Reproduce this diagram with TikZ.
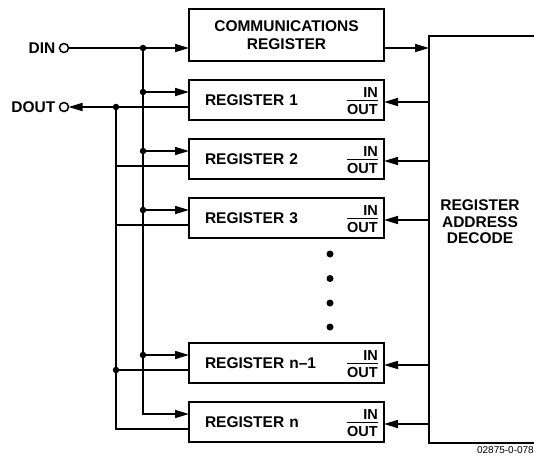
\documentclass[tikz,border=0pt]{standalone}
\usepackage{fontspec}
\setmainfont{Liberation Sans}
\usetikzlibrary{arrows.meta,calc}
\begin{document}
\begin{tikzpicture}[x=1pt,y=-1pt,
  lbl/.style={font=\fontsize{15.5}{16.5}\selectfont\bfseries},
  iolbl/.style={font=\fontsize{14.5}{16}\selectfont\bfseries},
  regbox/.style={draw,line width=2pt,minimum width=195pt,minimum height=40pt,
    text width=163pt,inner xsep=16pt,inner ysep=0pt,outer sep=0pt,align=left,lbl},
  wire/.style={line width=1.6pt},
  arr/.style={wire,-{Triangle[length=14pt,width=8pt]}},
  dot/.style={circle,fill,inner sep=0pt,minimum size=6.5pt},
  term/.style={circle,draw,line width=1.5pt,inner sep=0pt,outer sep=0pt,minimum size=9pt},
]
\useasboundingbox (0,0) rectangle (534,459);

% bus positions
\coordinate (busA) at (143,0);
\coordinate (busB) at (116,0);

% terminals
\node[term] (din) at (64,48) {};
\node[term] (dout) at (64,107) {};
\node[lbl,anchor=east,inner sep=0pt] (dinlbl) at ([xshift=-4pt]din.west) {DIN};
\node[lbl,anchor=east,inner sep=0pt] (doutlbl) at ([xshift=-4pt]dout.west) {DOUT};

% communications register
\node[draw,line width=2pt,minimum width=195pt,minimum height=52pt,outer sep=0pt,align=center,
  font=\fontsize{15.5}{18}\selectfont\bfseries]
  (comm) at (286.5,35) {COMMUNICATIONS\\REGISTER};

% decode block
\coordinate (decTL) at (429,36);
\coordinate (decBL) at (429,443);
\draw[line width=2pt] (536,36) -- (decTL) -- (decBL) -- (536,443);
\node[lbl,align=center] (dectext) at (480,222) {REGISTER\\ADDRESS\\DECODE};

% registers
\foreach \r/\t/\y in {r1/REGISTER 1/100, r2/REGISTER 2/159, r3/REGISTER 3/218,
                      rm/REGISTER n--1/363, rn/REGISTER n/422}{
  \node[regbox] (\r) at (286.5,\y) {\t};
  \coordinate (\r-in) at ($(\r.north west)+(0,12)$);
  \coordinate (\r-out) at ($(\r.north west)+(0,27)$);
  \coordinate (\r-dec) at ($(\r.east)+(0,2)$);
  \node[iolbl,anchor=base east,inner sep=0pt] (\r-o) at ($(\r.south east)+(-6,-6)$) {OUT};
  \node[iolbl,anchor=base east,inner sep=0pt] (\r-i) at ($(\r.south east)+(-6,-23)$) {IN};
  \draw[line width=1.5pt] ($(\r-o.north west)+(0,-3)$) -- ($(\r-o.north east)+(0,-3)$);
  \draw[arr] (\r-dec -| decTL) -- (\r-dec);
}

% input arrows from DIN bus
\foreach \r in {r1,r2,r3,rm}{
  \draw[arr] (\r-in -| busA) -- (\r-in);
}
\draw[wire] (din.east) -- (din -| busA);
\draw[arr] (din -| busA) -- (din -| comm.west);
\draw[arr] (din -| busA) |- (rn-in);
\draw[arr] (comm.east |- din) -- (din -| decTL);

% output lines to DOUT bus
\foreach \r in {r2,r3,rm}{
  \draw[wire] (\r-out) -- (\r-out -| busB);
}
\draw[wire] (r1-out) -- (r1-out -| busB);
\draw[arr] (r1-out -| busB) -- (dout.east);
\draw[wire] (r1-out -| busB) |- (rn-out);

% junction dots
\node[dot] (j0) at (din -| busA) {};
\node[dot] (j1) at (r1-in -| busA) {};
\node[dot] (j2) at (r2-in -| busA) {};
\node[dot] (j3) at (r3-in -| busA) {};
\node[dot] (j4) at (rm-in -| busA) {};
\node[dot] (k1) at (r1-out -| busB) {};
\node[dot] (k2) at (rm-out -| busB) {};

% ellipsis dots
\foreach \i/\yy in {1/254,2/278.5,3/303,4/327}{
  \node[dot,minimum size=7pt] (e\i) at (330,\yy) {};
}

% figure number
\node[font=\fontsize{10}{12}\selectfont,anchor=east,inner sep=0pt] (fig) at (534,450) {02875-0-078};
\end{tikzpicture}
\end{document}
